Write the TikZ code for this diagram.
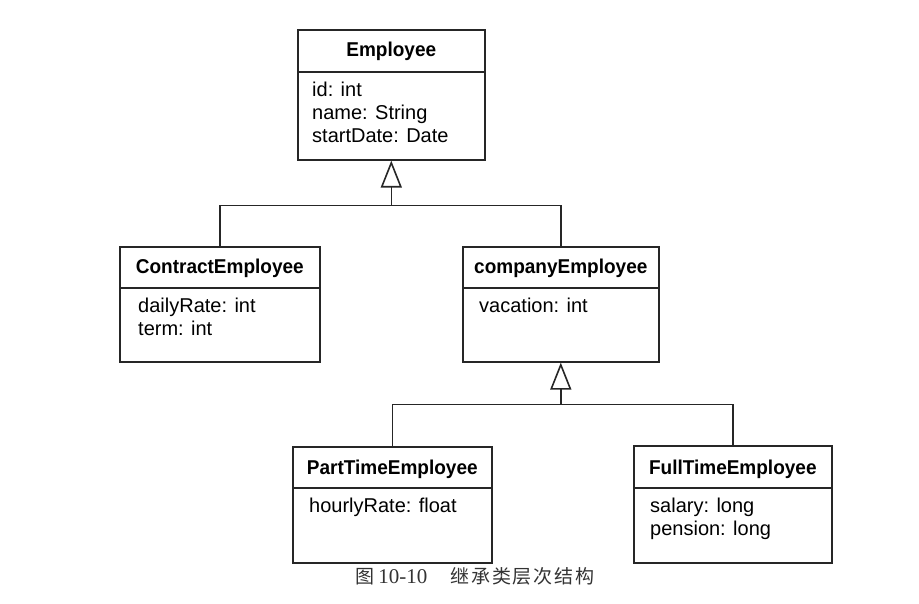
\documentclass[tikz,border=0pt]{standalone}
\usepackage{fontspec}
\setmainfont{Liberation Sans}[BoldFeatures={FakeStretch=0.95}]
\newfontfamily\cjk{Noto Sans CJK SC}
\newfontfamily\capnum{Liberation Serif}
\usetikzlibrary{calc, arrows.meta}

\begin{document}
\begin{tikzpicture}[x=1pt, y=1pt]

	% --- Parametri ---
	\def\titleH{42}  % altezza della riga del nome
	\def\inset{17}   % rientro degli attributi
	\def\attrTop{10} % distanza attributi dal separatore

	% --- Stili ---
	\tikzset{
		classbox/.style={draw=black!85, line width=1.6pt, rectangle, inner sep=0pt, anchor=north west},
		classname/.style={font=\fontsize{20}{23}\selectfont\bfseries, inner sep=0pt, anchor=base},
		attrs/.style={font=\fontsize{20}{23}\selectfont, align=left, inner sep=0pt, anchor=north west},
		conn/.style={draw=black!85, line width=1.6pt},
		inherit/.style={conn, -{Triangle[open, length=27pt, width=21pt, line width=1.6pt]}},
		caption/.style={font=\fontsize{19}{22}\selectfont, text=black!80, inner sep=0pt}
	}

	\useasboundingbox (0,0) rectangle (919,-604);

	% --- Employee ---
	\node[classbox, minimum width=187pt, minimum height=130pt] (emp) at (297,-29) {};
	\draw[conn] ($(emp.north west)+(0,-43)$) -- ($(emp.north east)+(0,-43)$);
	\node[classname] (emp-name) at ($(emp.north)+(0,-28)$) {Employee};
	\node[attrs] (emp-attr) at ($(emp.north west)+(15,-43-\attrTop)$) {id: int\\name: String\\startDate: Date};

	% --- ContractEmployee ---
	\node[classbox, minimum width=200pt, minimum height=115pt] (contract) at (119,-246) {};
	\draw[conn] ($(contract.north west)+(0,-\titleH)$) -- ($(contract.north east)+(0,-\titleH)$);
	\node[classname] (contract-name) at ($(contract.north)+(0,-28)$) {ContractEmployee};
	\node[attrs] (contract-attr) at ($(contract.north west)+(\inset+2,-\titleH-\attrTop)$) {dailyRate: int\\term: int};

	% --- companyEmployee ---
	\node[classbox, minimum width=196pt, minimum height=115pt] (company) at (462,-246) {};
	\draw[conn] ($(company.north west)+(0,-\titleH)$) -- ($(company.north east)+(0,-\titleH)$);
	\node[classname] (company-name) at ($(company.north)+(0,-28)$) {companyEmployee};
	\node[attrs] (company-attr) at ($(company.north west)+(\inset,-\titleH-\attrTop)$) {vacation: int};

	% --- PartTimeEmployee ---
	\node[classbox, minimum width=199pt, minimum height=116pt] (parttime) at (292,-446) {};
	\draw[conn] ($(parttime.north west)+(0,-\titleH)$) -- ($(parttime.north east)+(0,-\titleH)$);
	\node[classname] (parttime-name) at ($(parttime.north)+(0,-28)$) {PartTimeEmployee};
	\node[attrs] (parttime-attr) at ($(parttime.north west)+(\inset,-\titleH-\attrTop)$) {hourlyRate: float};

	% --- FullTimeEmployee ---
	\node[classbox, minimum width=198pt, minimum height=117pt] (fulltime) at (633,-445) {};
	\draw[conn] ($(fulltime.north west)+(0,-\titleH-1)$) -- ($(fulltime.north east)+(0,-\titleH-1)$);
	\node[classname] (fulltime-name) at ($(fulltime.north)+(0,-29)$) {FullTimeEmployee};
	\node[attrs] (fulltime-attr) at ($(fulltime.north west)+(\inset,-\titleH-1-\attrTop)$) {salary: long\\pension: long};

	% --- Generalizzazioni ---
	\coordinate (busA) at ($(emp.south)+(0,-45)$);
	\draw[conn] (contract.north) |- (busA) -| (company.north);
	\draw[inherit] (busA) -- (emp.south);

	\coordinate (busB) at ($(company.south)+(0,-42)$);
	\draw[conn] (parttime.north) |- (busB) -| (fulltime.north);
	\draw[inherit] (busB) -- (company.south);

	% --- Didascalia ---
	\node[caption] (cap) at (475,-576) {{\cjk 图}\hspace{4pt}{\capnum\fontsize{21}{22}\selectfont 10-10}\hspace{23pt}{\cjk\addfontfeature{LetterSpace=10}继承类层次结构}};

\end{tikzpicture}
\end{document}
